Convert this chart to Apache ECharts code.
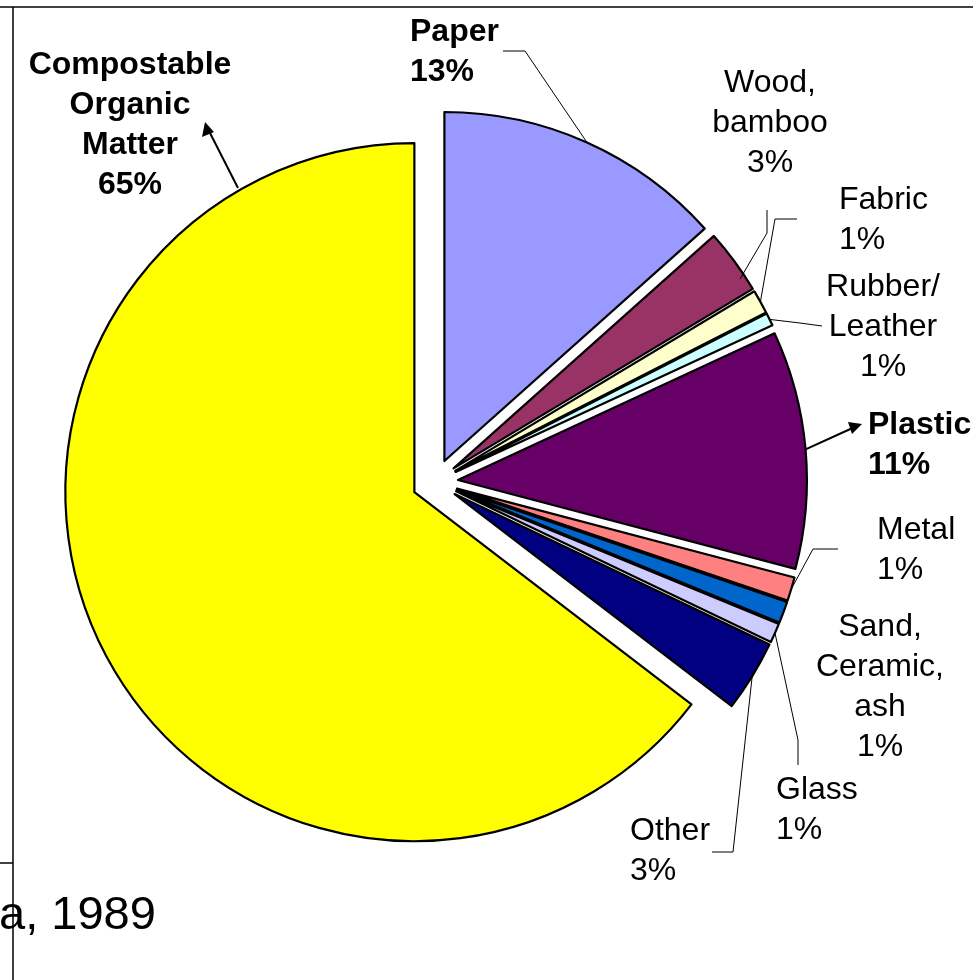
<!DOCTYPE html>
<html><head><meta charset="utf-8">
<script src="https://cdn.jsdelivr.net/npm/echarts@6/dist/echarts.min.js"></script>
<style>html,body{margin:0;padding:0;background:#fff}#c{width:973px;height:980px}</style>
</head><body><div id="c"></div>
<script>
// ---- data ----
const categories = ['Paper','Wood, bamboo','Fabric','Rubber/Leather','Plastic','Metal','Sand, Ceramic, ash','Glass','Other','Compostable Organic Matter'];
const labelNames = ['Paper','Wood,\nbamboo','Fabric','Rubber/\nLeather','Plastic','Metal','Sand,\nCeramic,\nash','Glass','Other','Compostable\nOrganic\nMatter'];
const shares = [13.4, 3.0, 1.1, 0.6, 11.0, 1.1, 1.0, 0.9, 3.3, 64.6];
const colors = ['#9999FF','#993366','#FFFFCC','#CCFFFF','#660066','#FF8080','#0066CC','#CCCCFF','#000080','#FFFF00'];
const boldLabels = [true,false,false,false,true,false,false,false,false,true];
const sourceText = 'a, 1989';

// ---- label layout (positions only) ----
const labelPos = [
  {x:410, y:12,  align:'left'},
  {x:770, y:63,  align:'center'},
  {x:839, y:180, align:'left'},
  {x:883, y:267, align:'center'},
  {x:868, y:405, align:'left'},
  {x:877, y:510, align:'left'},
  {x:880, y:607, align:'center'},
  {x:776, y:770, align:'left'},
  {x:630, y:811, align:'left'},
  {x:130, y:45,  align:'center'}
];
// leader line bends/ends (after the slice anchor); null = no line
const leaderPts = [
  [[525,51],[503,51]],
  [[767,233],[767,210]],
  [[775,219],[797,219]],
  [[800,323],[822,326]],
  [[857,426]],
  [[813,549],[838,549]],
  null,
  [[798,740],[798,765]],
  [[733,852],[712,852]],
  [[209,131]]
];
const fixedAnchor = {1: [740,279], 9: [238,188]};
const arrowIdx = [4, 9];

const PIE_CENTER = [435, 482], PIE_R = 349, EXPLODE = 23;

const chart = echarts.init(document.getElementById('c'), null, {renderer:'canvas'});

const sliceData = categories.map((n,i)=>({
  name: n, value: shares[i], selected: true,
  itemStyle: {color: colors[i]}
}));
const labelData = categories.map((n,i)=>({
  name: n, value: shares[i],
  label: {fontWeight: boldLabels[i] ? 'bold' : 'normal'},
  labelLine: {show: leaderPts[i] !== null, lineStyle: {width: arrowIdx.includes(i) ? 2 : 1}}
}));

chart.setOption({
  animation: false,
  backgroundColor: '#fff',
  series: [{
    type: 'pie',
    center: PIE_CENTER,
    radius: PIE_R,
    startAngle: 90,
    clockwise: true,
    selectedMode: 'multiple',
    selectedOffset: EXPLODE,
    silent: true,
    itemStyle: {borderColor: '#000', borderWidth: 2.2},
    label: {show: false},
    labelLine: {show: false},
    data: sliceData
  }, {
    type: 'pie',
    center: PIE_CENTER,
    radius: PIE_R + EXPLODE,
    startAngle: 90,
    clockwise: true,
    selectedMode: false,
    avoidLabelOverlap: false,
    silent: true,
    z: 3,
    itemStyle: {color: 'rgba(0,0,0,0)', borderWidth: 0},
    label: {
      show: true, position: 'outside', color: '#000',
      fontFamily: '"Liberation Sans", Arial, sans-serif', fontSize: 32, lineHeight: 40,
      formatter: p => labelNames[p.dataIndex] + '\n' + Math.round(p.percent) + '%'
    },
    labelLine: {show: true, length: 10, length2: 10, smooth: false, lineStyle: {color: '#000', width: 1}},
    labelLayout: function (p) {
      const i = p.dataIndex;
      const L = labelPos[i];
      const res = {x: L.x, y: L.y, align: L.align, verticalAlign: 'top'};
      const pts = leaderPts[i];
      if (pts) {
        const a = fixedAnchor[i] || (p.labelLinePoints ? p.labelLinePoints[0] : null);
        if (a) res.labelLinePoints = [a].concat(pts);
      }
      return res;
    },
    data: labelData
  }],
  graphic: [
    {type:'line', shape:{x1:0,y1:7,x2:973,y2:7}, style:{stroke:'#000', lineWidth:1.5}},
    {type:'line', shape:{x1:13,y1:7,x2:13,y2:980}, style:{stroke:'#000', lineWidth:1.5}},
    {type:'line', shape:{x1:0,y1:863,x2:13,y2:863}, style:{stroke:'#000', lineWidth:1.5}},
    {type:'text', left:-1, top:893, style:{text: sourceText, font:'47px "Liberation Sans", Arial, sans-serif', fill:'#000'}},
    // arrow heads for the two bold call-outs
    {type:'polygon', shape:{points:[[205,122],[202,137],[214,132]]}, style:{fill:'#000'}},
    {type:'polygon', shape:{points:[[862,424],[848,422],[852,434]]}, style:{fill:'#000'}}
  ]
});
</script>
</body></html>
